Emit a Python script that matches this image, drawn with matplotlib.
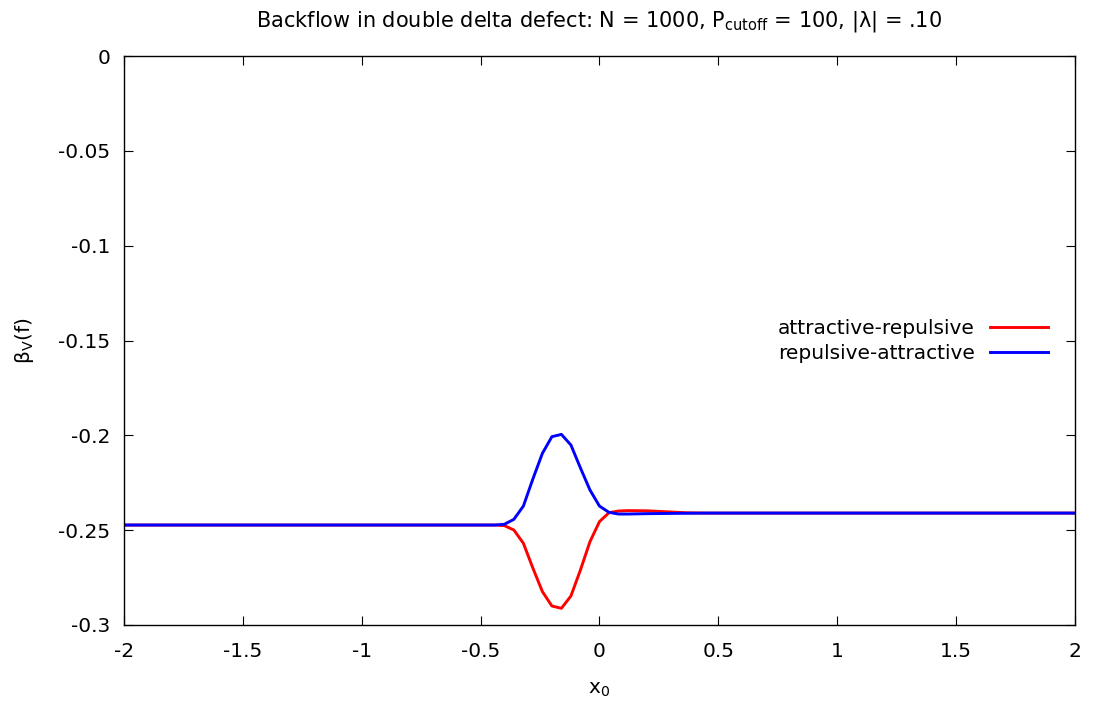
import matplotlib.pyplot as plt

plt.rcParams['font.family'] = 'DejaVu Sans'
plt.rcParams['axes.unicode_minus'] = False

# x0 positions (sample points)
x0 = [-2.0, -0.44, -0.40, -0.36, -0.32, -0.28, -0.24, -0.20, -0.16, -0.12,
      -0.08, -0.04, 0.00, 0.04, 0.08, 0.12, 0.20, 0.28, 0.36, 0.44, 2.0]

attr_rep = [-0.2473, -0.2473, -0.2476, -0.2499, -0.2569, -0.2700, -0.2824,
            -0.2900, -0.2912, -0.2847, -0.2710, -0.2561, -0.2455, -0.2408,
            -0.2399, -0.2397, -0.2398, -0.2403, -0.2408, -0.2410, -0.2410]

rep_attr = [-0.2473, -0.2473, -0.2469, -0.2443, -0.2373, -0.2230, -0.2095,
            -0.2007, -0.1995, -0.2051, -0.2172, -0.2288, -0.2373, -0.2406,
            -0.2415, -0.2415, -0.2413, -0.2412, -0.2411, -0.2410, -0.2410]

xticks = [-2, -1.5, -1, -0.5, 0, 0.5, 1, 1.5, 2]
xtick_labels = ['-2', '-1.5', '-1', '-0.5', '0', '0.5', '1', '1.5', '2']
yticks = [0, -0.05, -0.1, -0.15, -0.2, -0.25, -0.3]
ytick_labels = ['0', '-0.05', '-0.1', '-0.15', '-0.2', '-0.25', '-0.3']

fs = 14.5

fig = plt.figure(figsize=(10.93, 7.02), dpi=100)
ax = fig.add_axes([0.1134, 0.1097, 0.8701, 0.8105])

ax.plot(x0, attr_rep, color='#ff0000', lw=2.1, label='attractive-repulsive')
ax.plot(x0, rep_attr, color='#0000ff', lw=2.1, label='repulsive-attractive')

ax.set_xlim(-2, 2)
ax.set_ylim(-0.3, 0)
ax.set_xticks(xticks)
ax.set_xticklabels(xtick_labels)
ax.set_yticks(yticks)
ax.set_yticklabels(ytick_labels)
ax.tick_params(direction='in', top=True, right=True, length=6.5, width=0.8,
               labelsize=fs, pad=10)
ax.tick_params(axis='x', pad=12)
for s in ax.spines.values():
    s.set_linewidth(1.0)

ax.set_xlabel('x$_0$', fontsize=fs, labelpad=14)
ax.set_ylabel(r'$\mathregular{\beta_V}$(f)', fontsize=fs, labelpad=16)
ax.set_title(r'Backflow in double delta defect: N = 1000, P$_\mathregular{cutoff}$ = 100, |λ| = .10',
             fontsize=15, pad=21)

ax.legend(loc='upper right', bbox_to_anchor=(0.9716, 0.5375), frameon=False,
          markerfirst=False, fontsize=fs, handlelength=2.9, labelspacing=0.3,
          handletextpad=0.73, borderpad=0, borderaxespad=0)

fig.savefig('out.png', dpi=100)
